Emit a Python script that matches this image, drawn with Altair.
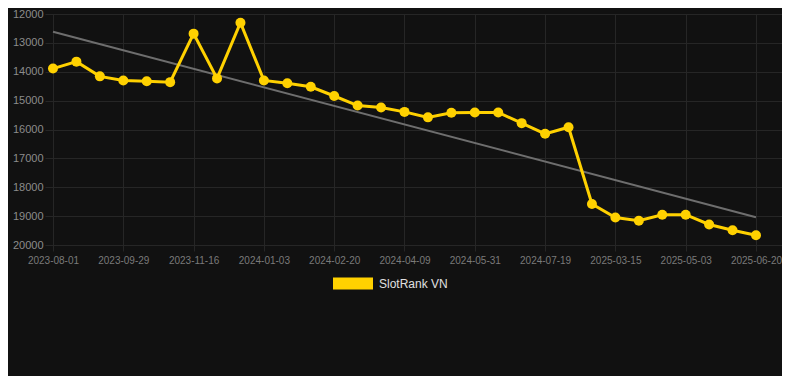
import altair as alt
import pandas as pd

dates = [
    "2023-08-01", "2023-08-21", "2023-09-10", "2023-09-29", "2023-10-15", "2023-10-31",
    "2023-11-16", "2023-12-02", "2023-12-18", "2024-01-03", "2024-01-19", "2024-02-04",
    "2024-02-20", "2024-03-07", "2024-03-23", "2024-04-09", "2024-04-26", "2024-05-14",
    "2024-05-31", "2024-06-16", "2024-07-02", "2024-07-19", "2024-08-04", "2024-08-20",
    "2025-03-15", "2025-03-31", "2025-04-16", "2025-05-03", "2025-05-19", "2025-06-04",
    "2025-06-20",
]
ranks = [
    13890, 13650, 14160, 14300, 14330, 14360, 12680, 14230, 12300, 14300, 14400,
    14520, 14840, 15170, 15240, 15390, 15580, 15420, 15410, 15410, 15780, 16150,
    15920, 18580, 19050, 19160, 18950, 18950, 19290, 19490, 19660,
]
series_name = "SlotRank VN"
y_ticks = [12000, 13000, 14000, 15000, 16000, 17000, 18000, 19000, 20000]

df = pd.DataFrame({
    "idx": list(range(len(dates))),
    "date": dates,
    "rank": ranks,
    "series": [series_name] * len(dates),
})

label_expr = "[" + ",".join(f"'{d}'" for d in dates) + "][datum.value]"

x_scale = alt.Scale(domain=[-0.341, 31.11], nice=False, zero=False)
y_scale = alt.Scale(domain=[12000, 20000], reverse=True, nice=False, zero=False)

x_enc = alt.X(
    "idx:Q", scale=x_scale, title=None,
    axis=alt.Axis(
        values=list(range(0, len(dates), 3)), labelExpr=label_expr,
        grid=True, gridColor="#262626", domain=False,
        ticks=True, tickColor="#262626", tickSize=6, labelPadding=4,
        labelColor="#7a7a7a", labelFontSize=10, labelFont="Liberation Sans",
        labelFlush=False, labelOverlap=False,
    ),
)
y_enc = alt.Y(
    "rank:Q", scale=y_scale, title=None,
    axis=alt.Axis(
        values=y_ticks, grid=True, gridColor="#262626", domain=False,
        ticks=False, labelPadding=2, labelColor="#8c8c8c", labelFontSize=11,
        labelFont="Liberation Sans", format="d",
    ),
)

base = alt.Chart(df)

trend = base.transform_regression("idx", "rank").mark_line(
    color="#6e6e6e", strokeWidth=2
).encode(x=x_enc, y=y_enc)

color_enc = alt.Color(
    "series:N",
    scale=alt.Scale(domain=[series_name], range=["#FFD100"]),
    legend=alt.Legend(
        title=None, orient="none", legendX=288, legendY=249.5,
        symbolType="M-1,-0.3H1V0.3H-1Z", symbolSize=1600,
        symbolFillColor="#FFD100", symbolStrokeWidth=0,
        labelColor="#e0e0e0", labelFontSize=12, labelFont="Liberation Sans",
        labelOffset=6, padding=0,
    ),
)

line = base.mark_line(strokeWidth=3).encode(x=x_enc, y=y_enc, color=color_enc)
points = base.mark_point(filled=True, size=100, opacity=1).encode(
    x=x_enc, y=y_enc,
    color=alt.Color("series:N", scale=alt.Scale(domain=[series_name], range=["#FFD100"]), legend=None),
)

chart = alt.layer(trend, line, points).properties(
    width=737, height=231,
    background="#111111",
    padding={"left": 37, "top": 6, "right": 0, "bottom": 131},
    autosize=alt.AutoSizeParams(type="none"),
).configure_view(stroke=None)

chart.save("out.html", embed_options={"renderer": "svg", "actions": False})
